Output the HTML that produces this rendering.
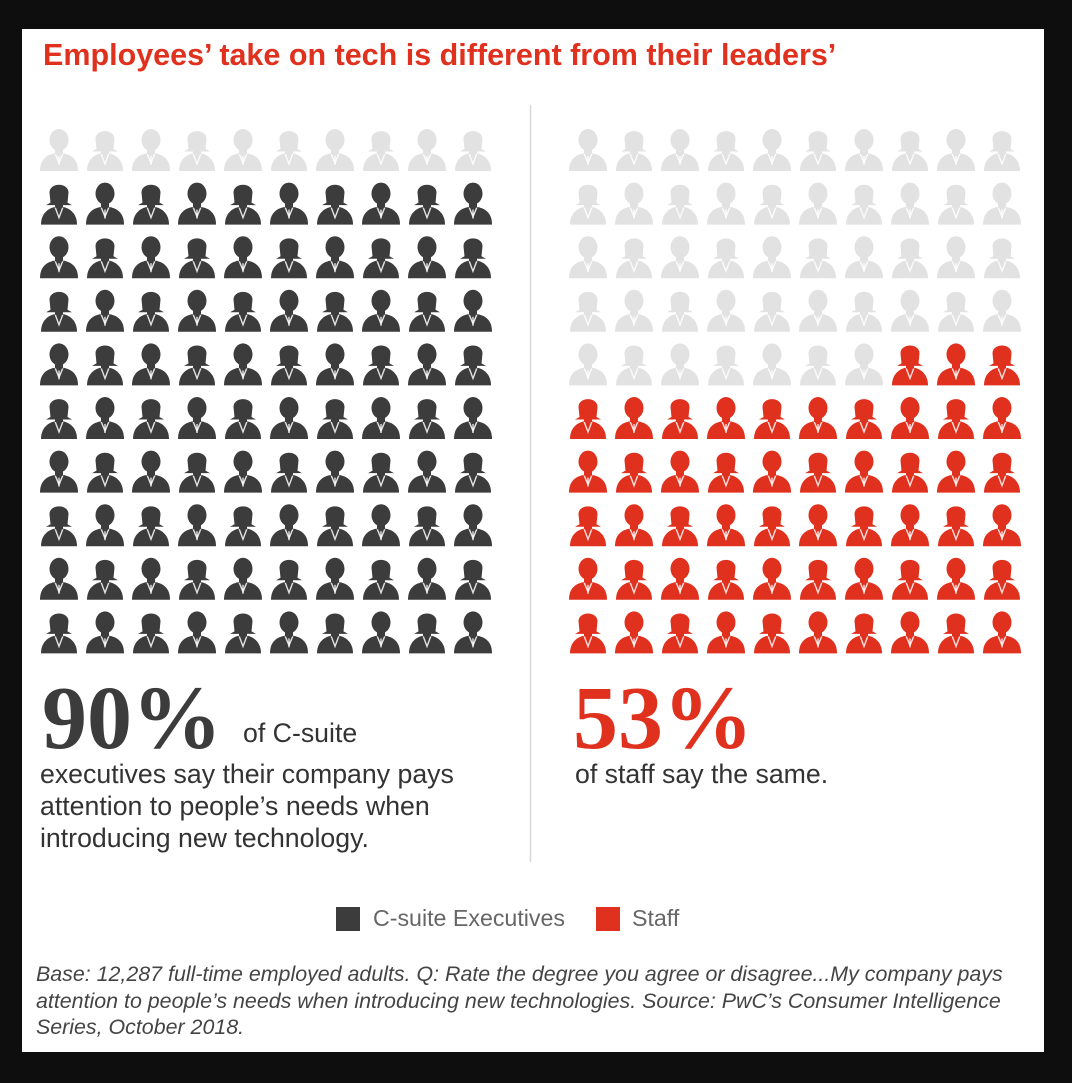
<!DOCTYPE html>
<html><head><meta charset="utf-8"><style>
html,body{margin:0;padding:0;background:#0e0e0e;}
.page{position:absolute;left:22px;top:29px;width:1022px;height:1023px;background:#fff;}
body{width:1072px;height:1083px;position:relative;overflow:hidden;font-family:"Liberation Sans",Arial,sans-serif;}
.t{position:absolute;white-space:nowrap;}
</style></head><body>
<div class="page"></div>
<svg width="1072" height="1083" style="position:absolute;left:0;top:0">
<defs>
<g id="m">
<ellipse cx="20" cy="12" rx="9.5" ry="11"/>
<rect x="16" y="18" width="8" height="9"/>
<path d="M1,43 C1,31 8,27 15,25.5 L25,25.5 C32,27 39,31 39,43 Z"/>
<path d="M15.5,26 L20,37 L24.5,26 L23,26 L20,33 L17,26 Z" fill="#fff" opacity="0.85"/>
<rect x="19.3" y="28" width="1.4" height="9" fill="#fff" opacity="0.85"/>
</g>
<g id="f">
<path d="M11.5,21 L10.5,11 C10.5,0.5 29.5,0.5 29.5,11 L28.5,21 L33,23.5 L7,23.5 Z"/>
<rect x="16" y="18" width="8" height="9"/>
<path d="M2,43 C2,32 9,27 15,25.5 L25,25.5 C31,27 38,32 38,43 Z"/>
<path d="M15.5,26 L20,38 L24.5,26 L23,26 L20,34 L17,26 Z" fill="#fff" opacity="0.85"/>
</g>
</defs>
<g id="icons"></g>
<line x1="530.5" y1="105" x2="530.5" y2="862" stroke="#d8d8d8" stroke-width="1.5"/>
<rect x="336" y="907" width="24" height="24" fill="#3c3c3c"/>
<rect x="596" y="907" width="24" height="24" fill="#e0301e"/>
</svg>
<div class="t" style="left:43px;top:38px;font-size:30.5px;font-weight:bold;color:#e0301e;">Employees’ take on tech is different from their leaders’</div>
<div class="t" style="left:42px;top:674px;line-height:90px;font-family:'Liberation Serif',serif;font-weight:bold;font-size:90px;color:#3c3c3c;">90%</div>
<div class="t" style="left:243px;top:717px;line-height:32px;font-size:26.7px;color:#333;">of C-suite</div>
<div class="t" style="left:40px;top:758px;font-size:26.7px;line-height:32px;color:#333;">executives say their company pays<br>attention to people’s needs when<br>introducing new technology.</div>
<div class="t" style="left:573px;top:674px;line-height:90px;font-family:'Liberation Serif',serif;font-weight:bold;font-size:90px;color:#e0301e;">53%</div>
<div class="t" style="left:575px;top:758px;line-height:32px;font-size:26.7px;color:#333;">of staff say the same.</div>
<div class="t" style="left:373px;top:905px;font-size:23.2px;color:#666;">C-suite Executives</div>
<div class="t" style="left:632px;top:905px;font-size:23.2px;color:#666;">Staff</div>
<div class="t" style="left:36px;top:961px;font-size:21.4px;line-height:26.5px;font-style:italic;color:#444;">Base: 12,287 full-time employed adults. Q: Rate the degree you agree or disagree...My company pays<br>attention to people’s needs when introducing new technologies. Source: PwC’s Consumer Intelligence<br>Series, October 2018.</div>
<script>
var g=document.getElementById('icons'),s='';
for(var r=0;r<10;r++)for(var c=0;c<10;c++){
 var id=((r+c)%2==0)?'m':'f';
 var y=128+r*53.6;
 var lc=r==0?'#e2e2e2':'#3c3c3c';
 s+='<use href="#'+id+'" x="'+(39+c*46)+'" y="'+y+'" fill="'+lc+'"/>';
 var idx=r*10+c;
 var rc=idx>=47?'#e0301e':'#e2e2e2';
 s+='<use href="#'+id+'" x="'+(568+c*46)+'" y="'+y+'" fill="'+rc+'"/>';
}
g.innerHTML=s;
</script>
</body></html>
